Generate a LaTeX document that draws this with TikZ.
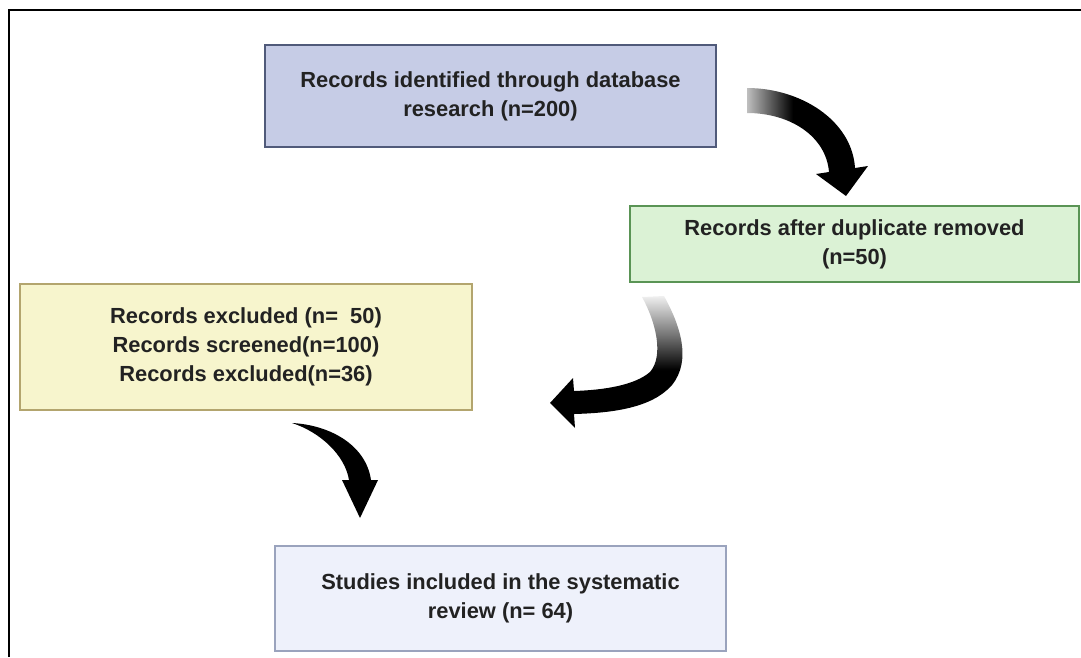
\documentclass[tikz,border=0pt]{standalone}
\usepackage{fontspec}
\setmainfont{Liberation Sans}

% shadings for the fading tails of the curved arrows
\pgfdeclarehorizontalshading{tailfadeh}{100bp}{color(0bp)=(black!25); color(25bp)=(black!25); color(44bp)=(black); color(100bp)=(black)}
\pgfdeclareverticalshading{tailfadev}{100bp}{color(0bp)=(black); color(47bp)=(black); color(60bp)=(black!55); color(75bp)=(black!6); color(100bp)=(black!6)}

\definecolor{txt}{HTML}{222222}
\definecolor{blueFill}{HTML}{C6CCE6}
\definecolor{blueLine}{HTML}{505A7A}
\definecolor{greenFill}{HTML}{DBF2D5}
\definecolor{greenLine}{HTML}{5A9455}
\definecolor{yellowFill}{HTML}{F7F5CD}
\definecolor{yellowLine}{HTML}{B3A56E}
\definecolor{paleFill}{HTML}{EEF1FB}
\definecolor{paleLine}{HTML}{9AA3BD}

\begin{document}
\begin{tikzpicture}[x=0.75pt,y=-0.75pt,
  box/.style={rectangle, line width=1.5pt, align=center, text=txt,
    font=\fontsize{16.4}{21.75}\selectfont\bfseries, inner sep=0pt},
  frameline/.style={line width=2.2pt, black}]
\useasboundingbox (0,0) rectangle (1081,657);

% outer frame (top and left sides)
\draw[frameline] (9,657) -- (9,10) -- (1081,10);

% boxes
\node[box, draw=blueLine, fill=blueFill, minimum width=338.25pt, minimum height=76.5pt]
  (ident) at (490.5,96) {Records identified through database\\research (n=200)};
\node[box, draw=greenLine, fill=greenFill, minimum width=336.75pt, minimum height=57pt]
  (dup) at (854.5,244) {Records after duplicate removed\\(n=50)};
\node[box, draw=yellowLine, fill=yellowFill, minimum width=339pt, minimum height=94.5pt]
  (screen) at (246,347) {Records excluded (n=\ \ 50)\\Records screened(n=100)\\Records excluded(n=36)};
\node[box, draw=paleLine, fill=paleFill, minimum width=338.25pt, minimum height=78.75pt]
  (incl) at (500.5,598.5) {Studies included in the systematic\\review (n= 64)};

% curved arrow: identified -> after duplicates
\shade[shading=tailfadeh]
  (747,88) .. controls (800,88) and (852,120) .. (855,168)
  -- (868,166) -- (846,196) -- (816,174) -- (829,172)
  .. controls (826,136) and (790,113) .. (747,113) -- cycle;

% curved arrow: after duplicates -> screening
\shade[shading=tailfadev]
  (664,296) .. controls (680,325) and (692,360) .. (672,385)
  .. controls (652,408) and (612,413) .. (574,414)
  -- (575,428) -- (550,403) -- (573,378) -- (574,391)
  .. controls (605,390) and (635,385) .. (650,372)
  .. controls (664,356) and (656,322) .. (642,297) -- cycle;

% curved arrow: screening -> included
\fill[black]
  (292,423) .. controls (330,425) and (366,445) .. (371,480)
  -- (378,480) -- (360,518) -- (342,480) -- (349,480)
  .. controls (345,455) and (320,432) .. (292,423) -- cycle;
\end{tikzpicture}
\end{document}
